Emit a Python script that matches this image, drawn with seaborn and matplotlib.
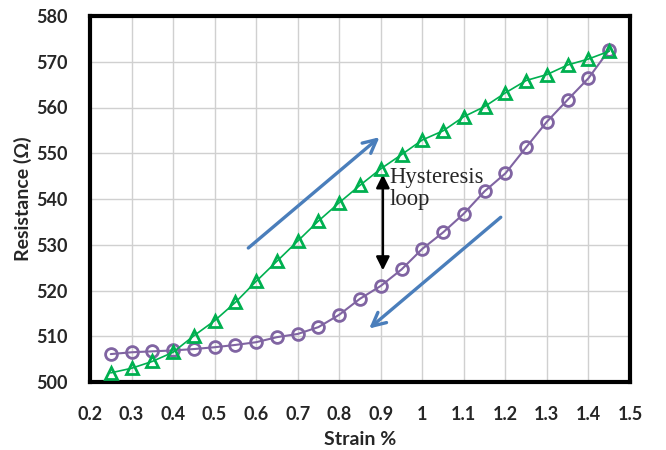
import matplotlib
matplotlib.use("Agg")
import matplotlib.pyplot as plt
import seaborn as sns
import pandas as pd

strain = [0.25, 0.30, 0.35, 0.40, 0.45, 0.50, 0.55, 0.60, 0.65, 0.70, 0.75, 0.80, 0.85,
          0.90, 0.95, 1.00, 1.05, 1.10, 1.15, 1.20, 1.25, 1.30, 1.35, 1.40, 1.45]
loading = [502.0, 503.0, 504.5, 506.5, 510.1, 513.4, 517.4, 522.0, 526.4, 530.8, 535.2, 539.2, 543.0,
           546.6, 549.7, 552.9, 554.9, 558.0, 560.2, 563.2, 565.9, 567.2, 569.3, 570.6, 572.3]
unloading = [506.1, 506.5, 506.7, 506.9, 507.2, 507.6, 508.1, 508.7, 509.8, 510.5, 512.0, 514.7, 518.2,
             521.0, 524.6, 529.1, 532.7, 536.8, 541.7, 545.6, 551.3, 556.9, 561.7, 566.4, 572.6]
xticks = [0.2, 0.3, 0.4, 0.5, 0.6, 0.7, 0.8, 0.9, 1.0, 1.1, 1.2, 1.3, 1.4, 1.5]
xtick_labels = ["0.2", "0.3", "0.4", "0.5", "0.6", "0.7", "0.8", "0.9", "1", "1.1", "1.2", "1.3", "1.4", "1.5"]
yticks = [500, 510, 520, 530, 540, 550, 560, 570, 580]

df = pd.DataFrame({"strain": strain, "loading": loading, "unloading": unloading})

sns.set_theme(style="white")
plt.rcParams["font.family"] = ["Lato", "DejaVu Sans"]

fig = plt.figure(figsize=(6.66, 4.5), dpi=100)
ax = fig.add_axes([90 / 666, 1 - 382 / 450, (630 - 90) / 666, (382 - 16) / 450])

green = "#00B050"
purple = "#8064A2"
blue = "#4A7EBB"

sns.lineplot(data=df, x="strain", y="unloading", ax=ax, color=purple, lw=1.5,
             marker="o", markersize=8.5, markerfacecolor="none", markeredgecolor=purple,
             markeredgewidth=2, zorder=3)
sns.lineplot(data=df, x="strain", y="loading", ax=ax, color=green, lw=1.2,
             marker="^", markersize=8.5, markerfacecolor="none", markeredgecolor=green,
             markeredgewidth=2, zorder=4)

ax.set_xlim(0.2, 1.5)
ax.set_ylim(500, 580)
ax.set_xticks(xticks)
ax.set_xticklabels(xtick_labels)
ax.set_yticks(yticks)
ax.grid(True, color="#d0d0d0", lw=1)
ax.set_axisbelow(True)
for s in ax.spines.values():
    s.set_visible(True)
    s.set_color("black")
    s.set_linewidth(3)
ax.tick_params(axis="both", length=0, labelsize=13)
ax.tick_params(axis="x", pad=17)
ax.tick_params(axis="y", pad=16)
for lbl in ax.get_xticklabels() + ax.get_yticklabels():
    lbl.set_fontweight("bold")

ax.set_xlabel("Strain %", fontsize=14, fontweight="bold", labelpad=6)
ax.set_ylabel("Resistance (Ω)", fontsize=14, fontweight="bold", labelpad=3)

# blue direction arrows
ax.annotate("", xy=(0.902, 553.9), xytext=(0.576, 528.9),
            arrowprops=dict(arrowstyle="->", color=blue, lw=2.4, mutation_scale=24))
ax.annotate("", xy=(0.867, 511.3), xytext=(1.194, 536.4),
            arrowprops=dict(arrowstyle="->", color=blue, lw=2.4, mutation_scale=24))

# hysteresis double arrow
ax.annotate("", xy=(0.905, 546.0), xytext=(0.905, 523.8),
            arrowprops=dict(arrowstyle="<|-|>", color="black", lw=1.8, mutation_scale=20))
ax.text(0.92, 542.3, "Hysteresis\nloop", fontsize=16.3, family=["Liberation Serif"],
        va="center", ha="left", linespacing=1.1, zorder=5)

fig.savefig("out.png", dpi=100)
